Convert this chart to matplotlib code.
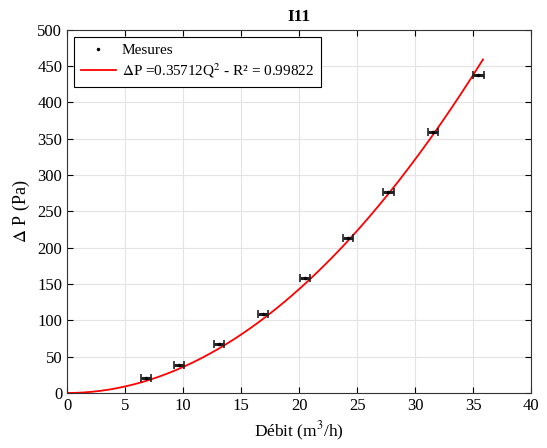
import numpy as np
import matplotlib.pyplot as plt

plt.rcParams['font.family'] = ['Liberation Serif', 'DejaVu Serif']
plt.rcParams['mathtext.fontset'] = 'stix'

# =========================
# DATA
# =========================
debit = [6.8, 9.65, 13.1, 16.9, 20.5, 24.2, 27.7, 31.55, 35.45]
dp = [20, 38, 67, 109, 158, 213, 276, 359, 438]
debit_err = [0.45, 0.45, 0.45, 0.45, 0.45, 0.45, 0.45, 0.45, 0.5]

coef = 0.35712
r2 = 0.99822
q_max = 35.85

xticks = [0, 5, 10, 15, 20, 25, 30, 35, 40]
yticks = [0, 50, 100, 150, 200, 250, 300, 350, 400, 450, 500]

# =========================
# PLOT
# =========================
fig = plt.figure(figsize=(5.47, 4.48), dpi=100)
ax = fig.add_axes([0.1225, 0.1228, 0.8485, 0.811])

q_fit = np.linspace(0, q_max, 200)
ax.plot(q_fit, coef * q_fit**2, color='red', lw=1.3,
        label=r'$\Delta$P =0.35712Q$^2$ - R² = 0.99822', zorder=2)

ax.errorbar(debit, dp, xerr=debit_err, fmt='none', ecolor='#222222',
            elinewidth=2.2, capsize=3, capthick=1.2, zorder=3)
ax.plot(debit, dp, '.', color='black', ms=3, label='Mesures', zorder=4)

ax.set_xlim(0, 40)
ax.set_ylim(0, 500)
ax.set_xticks(xticks)
ax.set_yticks(yticks)
ax.tick_params(direction='in', top=True, right=True, labelsize=12, length=4)
ax.grid(True, color='#e3e3e3', lw=0.8)
ax.set_axisbelow(True)
for s in ax.spines.values():
    s.set_color('#333333')

ax.set_xlabel('Débit (m$^3$/h)', fontsize=12.5)
ax.set_ylabel(r'$\Delta$ P (Pa)', fontsize=13)
ax.set_title('I11', fontsize=12.5, fontweight='bold')

handles, labels = ax.get_legend_handles_labels()
leg = ax.legend(handles[::-1], labels[::-1], loc='upper left', fontsize=11,
                fancybox=False, edgecolor='black', framealpha=1,
                borderaxespad=0.45, handlelength=2.3, handletextpad=0.4,
                labelspacing=0.3, borderpad=0.45)
leg.get_frame().set_linewidth(0.8)

fig.savefig('out.png', dpi=100)
